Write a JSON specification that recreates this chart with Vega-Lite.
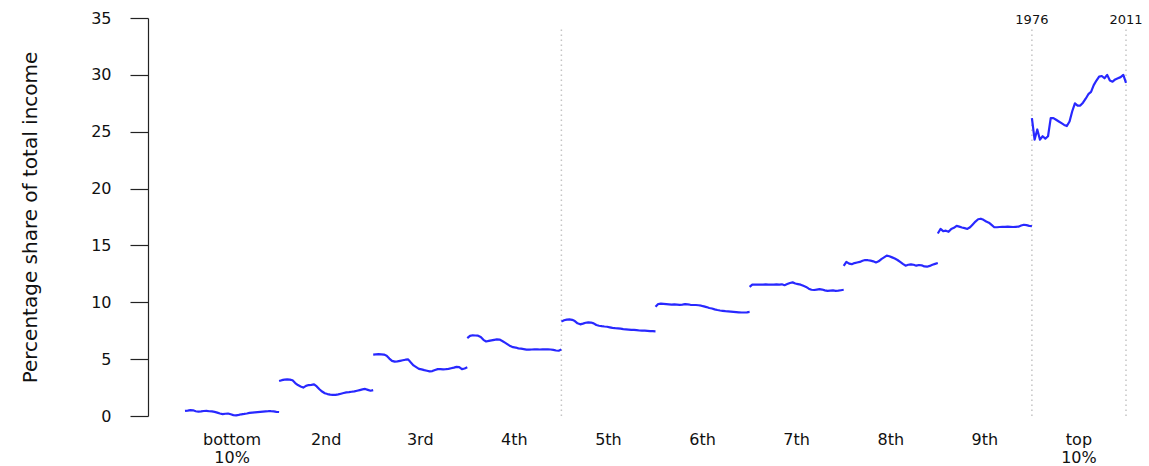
{
  "$schema": "https://vega.github.io/schema/vega-lite/v6.json",
  "width": 995,
  "height": 398,
  "autosize": "none",
  "padding": {"left": 148, "top": 18, "right": 6, "bottom": 50},
  "background": "white",
  "config": {
    "view": {"stroke": null},
    "font": "DejaVu Sans",
    "axis": {"labelFont": "DejaVu Sans", "titleFont": "DejaVu Sans", "grid": false}
  },
  "layer": [
    {
      "data": {"values": [
        {"decile": "5th", "year": 1976},
        {"decile": "top 10%", "year": 1976},
        {"decile": "top 10%", "year": 2011}
      ]},
      "mark": {"type": "rule", "color": "#c4c4c4", "strokeWidth": 1.5, "strokeDash": [1.5, 3.5]},
      "encoding": {
        "x": {"field": "decile", "type": "nominal"},
        "xOffset": {"field": "year", "type": "quantitative"},
        "y": {"datum": 0, "type": "quantitative"},
        "y2": {"datum": 34}
      }
    },
    {
      "data": {"values": [
        {"decile": "top 10%", "year": 1976, "label": "1976"},
        {"decile": "top 10%", "year": 2011, "label": "2011"}
      ]},
      "mark": {"type": "text", "fontSize": 13, "color": "#111", "baseline": "middle", "align": "center", "dy": 2},
      "encoding": {
        "x": {"field": "decile", "type": "nominal"},
        "xOffset": {"field": "year", "type": "quantitative"},
        "y": {"datum": 35, "type": "quantitative"},
        "text": {"field": "label"}
      }
    },
    {
      "data": {"values": [
        {"decile":"bottom 10%","year":1976,"share":0.45},{"decile":"bottom 10%","year":1977,"share":0.48},{"decile":"bottom 10%","year":1978,"share":0.52},{"decile":"bottom 10%","year":1979,"share":0.5},{"decile":"bottom 10%","year":1980,"share":0.42},{"decile":"bottom 10%","year":1981,"share":0.38},{"decile":"bottom 10%","year":1982,"share":0.4},{"decile":"bottom 10%","year":1983,"share":0.44},{"decile":"bottom 10%","year":1984,"share":0.45},{"decile":"bottom 10%","year":1985,"share":0.42},{"decile":"bottom 10%","year":1986,"share":0.4},{"decile":"bottom 10%","year":1987,"share":0.36},{"decile":"bottom 10%","year":1988,"share":0.3},{"decile":"bottom 10%","year":1989,"share":0.22},{"decile":"bottom 10%","year":1990,"share":0.17},{"decile":"bottom 10%","year":1991,"share":0.2},{"decile":"bottom 10%","year":1992,"share":0.22},{"decile":"bottom 10%","year":1993,"share":0.15},{"decile":"bottom 10%","year":1994,"share":0.08},{"decile":"bottom 10%","year":1995,"share":0.06},{"decile":"bottom 10%","year":1996,"share":0.1},{"decile":"bottom 10%","year":1997,"share":0.15},{"decile":"bottom 10%","year":1998,"share":0.18},{"decile":"bottom 10%","year":1999,"share":0.22},{"decile":"bottom 10%","year":2000,"share":0.27},{"decile":"bottom 10%","year":2001,"share":0.3},{"decile":"bottom 10%","year":2002,"share":0.32},{"decile":"bottom 10%","year":2003,"share":0.34},{"decile":"bottom 10%","year":2004,"share":0.36},{"decile":"bottom 10%","year":2005,"share":0.38},{"decile":"bottom 10%","year":2006,"share":0.4},{"decile":"bottom 10%","year":2007,"share":0.42},{"decile":"bottom 10%","year":2008,"share":0.42},{"decile":"bottom 10%","year":2009,"share":0.4},{"decile":"bottom 10%","year":2010,"share":0.37},{"decile":"bottom 10%","year":2011,"share":0.35},
        {"decile":"2nd","year":1976,"share":3.08},{"decile":"2nd","year":1977,"share":3.15},{"decile":"2nd","year":1978,"share":3.2},{"decile":"2nd","year":1979,"share":3.22},{"decile":"2nd","year":1980,"share":3.2},{"decile":"2nd","year":1981,"share":3.14},{"decile":"2nd","year":1982,"share":2.9},{"decile":"2nd","year":1983,"share":2.72},{"decile":"2nd","year":1984,"share":2.6},{"decile":"2nd","year":1985,"share":2.5},{"decile":"2nd","year":1986,"share":2.65},{"decile":"2nd","year":1987,"share":2.72},{"decile":"2nd","year":1988,"share":2.74},{"decile":"2nd","year":1989,"share":2.78},{"decile":"2nd","year":1990,"share":2.6},{"decile":"2nd","year":1991,"share":2.35},{"decile":"2nd","year":1992,"share":2.15},{"decile":"2nd","year":1993,"share":2.0},{"decile":"2nd","year":1994,"share":1.93},{"decile":"2nd","year":1995,"share":1.88},{"decile":"2nd","year":1996,"share":1.85},{"decile":"2nd","year":1997,"share":1.86},{"decile":"2nd","year":1998,"share":1.9},{"decile":"2nd","year":1999,"share":1.96},{"decile":"2nd","year":2000,"share":2.02},{"decile":"2nd","year":2001,"share":2.08},{"decile":"2nd","year":2002,"share":2.1},{"decile":"2nd","year":2003,"share":2.13},{"decile":"2nd","year":2004,"share":2.16},{"decile":"2nd","year":2005,"share":2.22},{"decile":"2nd","year":2006,"share":2.28},{"decile":"2nd","year":2007,"share":2.34},{"decile":"2nd","year":2008,"share":2.38},{"decile":"2nd","year":2009,"share":2.3},{"decile":"2nd","year":2010,"share":2.22},{"decile":"2nd","year":2011,"share":2.28},
        {"decile":"3rd","year":1976,"share":5.4},{"decile":"3rd","year":1977,"share":5.42},{"decile":"3rd","year":1978,"share":5.44},{"decile":"3rd","year":1979,"share":5.42},{"decile":"3rd","year":1980,"share":5.4},{"decile":"3rd","year":1981,"share":5.3},{"decile":"3rd","year":1982,"share":5.05},{"decile":"3rd","year":1983,"share":4.85},{"decile":"3rd","year":1984,"share":4.78},{"decile":"3rd","year":1985,"share":4.8},{"decile":"3rd","year":1986,"share":4.85},{"decile":"3rd","year":1987,"share":4.9},{"decile":"3rd","year":1988,"share":4.95},{"decile":"3rd","year":1989,"share":4.98},{"decile":"3rd","year":1990,"share":4.7},{"decile":"3rd","year":1991,"share":4.45},{"decile":"3rd","year":1992,"share":4.3},{"decile":"3rd","year":1993,"share":4.15},{"decile":"3rd","year":1994,"share":4.1},{"decile":"3rd","year":1995,"share":4.03},{"decile":"3rd","year":1996,"share":3.98},{"decile":"3rd","year":1997,"share":3.92},{"decile":"3rd","year":1998,"share":3.95},{"decile":"3rd","year":1999,"share":4.05},{"decile":"3rd","year":2000,"share":4.12},{"decile":"3rd","year":2001,"share":4.12},{"decile":"3rd","year":2002,"share":4.1},{"decile":"3rd","year":2003,"share":4.12},{"decile":"3rd","year":2004,"share":4.15},{"decile":"3rd","year":2005,"share":4.2},{"decile":"3rd","year":2006,"share":4.25},{"decile":"3rd","year":2007,"share":4.32},{"decile":"3rd","year":2008,"share":4.3},{"decile":"3rd","year":2009,"share":4.12},{"decile":"3rd","year":2010,"share":4.18},{"decile":"3rd","year":2011,"share":4.28},
        {"decile":"4th","year":1976,"share":6.85},{"decile":"4th","year":1977,"share":7.05},{"decile":"4th","year":1978,"share":7.1},{"decile":"4th","year":1979,"share":7.08},{"decile":"4th","year":1980,"share":7.06},{"decile":"4th","year":1981,"share":6.95},{"decile":"4th","year":1982,"share":6.7},{"decile":"4th","year":1983,"share":6.55},{"decile":"4th","year":1984,"share":6.6},{"decile":"4th","year":1985,"share":6.65},{"decile":"4th","year":1986,"share":6.7},{"decile":"4th","year":1987,"share":6.74},{"decile":"4th","year":1988,"share":6.72},{"decile":"4th","year":1989,"share":6.6},{"decile":"4th","year":1990,"share":6.45},{"decile":"4th","year":1991,"share":6.3},{"decile":"4th","year":1992,"share":6.15},{"decile":"4th","year":1993,"share":6.05},{"decile":"4th","year":1994,"share":6.02},{"decile":"4th","year":1995,"share":5.95},{"decile":"4th","year":1996,"share":5.92},{"decile":"4th","year":1997,"share":5.88},{"decile":"4th","year":1998,"share":5.84},{"decile":"4th","year":1999,"share":5.83},{"decile":"4th","year":2000,"share":5.85},{"decile":"4th","year":2001,"share":5.86},{"decile":"4th","year":2002,"share":5.86},{"decile":"4th","year":2003,"share":5.85},{"decile":"4th","year":2004,"share":5.86},{"decile":"4th","year":2005,"share":5.87},{"decile":"4th","year":2006,"share":5.86},{"decile":"4th","year":2007,"share":5.85},{"decile":"4th","year":2008,"share":5.82},{"decile":"4th","year":2009,"share":5.76},{"decile":"4th","year":2010,"share":5.74},{"decile":"4th","year":2011,"share":5.86},
        {"decile":"5th","year":1976,"share":8.3},{"decile":"5th","year":1977,"share":8.42},{"decile":"5th","year":1978,"share":8.48},{"decile":"5th","year":1979,"share":8.5},{"decile":"5th","year":1980,"share":8.46},{"decile":"5th","year":1981,"share":8.35},{"decile":"5th","year":1982,"share":8.15},{"decile":"5th","year":1983,"share":8.06},{"decile":"5th","year":1984,"share":8.12},{"decile":"5th","year":1985,"share":8.2},{"decile":"5th","year":1986,"share":8.23},{"decile":"5th","year":1987,"share":8.22},{"decile":"5th","year":1988,"share":8.15},{"decile":"5th","year":1989,"share":8.0},{"decile":"5th","year":1990,"share":7.94},{"decile":"5th","year":1991,"share":7.9},{"decile":"5th","year":1992,"share":7.87},{"decile":"5th","year":1993,"share":7.85},{"decile":"5th","year":1994,"share":7.8},{"decile":"5th","year":1995,"share":7.75},{"decile":"5th","year":1996,"share":7.72},{"decile":"5th","year":1997,"share":7.7},{"decile":"5th","year":1998,"share":7.68},{"decile":"5th","year":1999,"share":7.64},{"decile":"5th","year":2000,"share":7.62},{"decile":"5th","year":2001,"share":7.6},{"decile":"5th","year":2002,"share":7.58},{"decile":"5th","year":2003,"share":7.57},{"decile":"5th","year":2004,"share":7.55},{"decile":"5th","year":2005,"share":7.52},{"decile":"5th","year":2006,"share":7.5},{"decile":"5th","year":2007,"share":7.5},{"decile":"5th","year":2008,"share":7.49},{"decile":"5th","year":2009,"share":7.47},{"decile":"5th","year":2010,"share":7.46},{"decile":"5th","year":2011,"share":7.45},
        {"decile":"6th","year":1976,"share":9.6},{"decile":"6th","year":1977,"share":9.85},{"decile":"6th","year":1978,"share":9.88},{"decile":"6th","year":1979,"share":9.86},{"decile":"6th","year":1980,"share":9.84},{"decile":"6th","year":1981,"share":9.82},{"decile":"6th","year":1982,"share":9.8},{"decile":"6th","year":1983,"share":9.82},{"decile":"6th","year":1984,"share":9.8},{"decile":"6th","year":1985,"share":9.78},{"decile":"6th","year":1986,"share":9.8},{"decile":"6th","year":1987,"share":9.84},{"decile":"6th","year":1988,"share":9.82},{"decile":"6th","year":1989,"share":9.78},{"decile":"6th","year":1990,"share":9.76},{"decile":"6th","year":1991,"share":9.76},{"decile":"6th","year":1992,"share":9.74},{"decile":"6th","year":1993,"share":9.7},{"decile":"6th","year":1994,"share":9.64},{"decile":"6th","year":1995,"share":9.58},{"decile":"6th","year":1996,"share":9.5},{"decile":"6th","year":1997,"share":9.45},{"decile":"6th","year":1998,"share":9.38},{"decile":"6th","year":1999,"share":9.32},{"decile":"6th","year":2000,"share":9.28},{"decile":"6th","year":2001,"share":9.25},{"decile":"6th","year":2002,"share":9.22},{"decile":"6th","year":2003,"share":9.2},{"decile":"6th","year":2004,"share":9.18},{"decile":"6th","year":2005,"share":9.16},{"decile":"6th","year":2006,"share":9.14},{"decile":"6th","year":2007,"share":9.12},{"decile":"6th","year":2008,"share":9.1},{"decile":"6th","year":2009,"share":9.1},{"decile":"6th","year":2010,"share":9.12},{"decile":"6th","year":2011,"share":9.15},
        {"decile":"7th","year":1976,"share":11.35},{"decile":"7th","year":1977,"share":11.55},{"decile":"7th","year":1978,"share":11.55},{"decile":"7th","year":1979,"share":11.56},{"decile":"7th","year":1980,"share":11.56},{"decile":"7th","year":1981,"share":11.56},{"decile":"7th","year":1982,"share":11.57},{"decile":"7th","year":1983,"share":11.56},{"decile":"7th","year":1984,"share":11.56},{"decile":"7th","year":1985,"share":11.56},{"decile":"7th","year":1986,"share":11.57},{"decile":"7th","year":1987,"share":11.56},{"decile":"7th","year":1988,"share":11.58},{"decile":"7th","year":1989,"share":11.5},{"decile":"7th","year":1990,"share":11.6},{"decile":"7th","year":1991,"share":11.7},{"decile":"7th","year":1992,"share":11.75},{"decile":"7th","year":1993,"share":11.65},{"decile":"7th","year":1994,"share":11.6},{"decile":"7th","year":1995,"share":11.55},{"decile":"7th","year":1996,"share":11.45},{"decile":"7th","year":1997,"share":11.35},{"decile":"7th","year":1998,"share":11.2},{"decile":"7th","year":1999,"share":11.1},{"decile":"7th","year":2000,"share":11.08},{"decile":"7th","year":2001,"share":11.12},{"decile":"7th","year":2002,"share":11.15},{"decile":"7th","year":2003,"share":11.12},{"decile":"7th","year":2004,"share":11.05},{"decile":"7th","year":2005,"share":11.0},{"decile":"7th","year":2006,"share":11.02},{"decile":"7th","year":2007,"share":11.04},{"decile":"7th","year":2008,"share":11.0},{"decile":"7th","year":2009,"share":11.02},{"decile":"7th","year":2010,"share":11.06},{"decile":"7th","year":2011,"share":11.1},
        {"decile":"8th","year":1976,"share":13.2},{"decile":"8th","year":1977,"share":13.55},{"decile":"8th","year":1978,"share":13.4},{"decile":"8th","year":1979,"share":13.35},{"decile":"8th","year":1980,"share":13.45},{"decile":"8th","year":1981,"share":13.5},{"decile":"8th","year":1982,"share":13.55},{"decile":"8th","year":1983,"share":13.65},{"decile":"8th","year":1984,"share":13.72},{"decile":"8th","year":1985,"share":13.7},{"decile":"8th","year":1986,"share":13.66},{"decile":"8th","year":1987,"share":13.6},{"decile":"8th","year":1988,"share":13.5},{"decile":"8th","year":1989,"share":13.6},{"decile":"8th","year":1990,"share":13.8},{"decile":"8th","year":1991,"share":13.95},{"decile":"8th","year":1992,"share":14.1},{"decile":"8th","year":1993,"share":14.05},{"decile":"8th","year":1994,"share":13.95},{"decile":"8th","year":1995,"share":13.85},{"decile":"8th","year":1996,"share":13.72},{"decile":"8th","year":1997,"share":13.55},{"decile":"8th","year":1998,"share":13.38},{"decile":"8th","year":1999,"share":13.22},{"decile":"8th","year":2000,"share":13.3},{"decile":"8th","year":2001,"share":13.34},{"decile":"8th","year":2002,"share":13.3},{"decile":"8th","year":2003,"share":13.22},{"decile":"8th","year":2004,"share":13.28},{"decile":"8th","year":2005,"share":13.25},{"decile":"8th","year":2006,"share":13.15},{"decile":"8th","year":2007,"share":13.13},{"decile":"8th","year":2008,"share":13.2},{"decile":"8th","year":2009,"share":13.3},{"decile":"8th","year":2010,"share":13.38},{"decile":"8th","year":2011,"share":13.45},
        {"decile":"9th","year":1976,"share":16.05},{"decile":"9th","year":1977,"share":16.45},{"decile":"9th","year":1978,"share":16.25},{"decile":"9th","year":1979,"share":16.3},{"decile":"9th","year":1980,"share":16.2},{"decile":"9th","year":1981,"share":16.45},{"decile":"9th","year":1982,"share":16.55},{"decile":"9th","year":1983,"share":16.72},{"decile":"9th","year":1984,"share":16.65},{"decile":"9th","year":1985,"share":16.58},{"decile":"9th","year":1986,"share":16.52},{"decile":"9th","year":1987,"share":16.45},{"decile":"9th","year":1988,"share":16.6},{"decile":"9th","year":1989,"share":16.85},{"decile":"9th","year":1990,"share":17.1},{"decile":"9th","year":1991,"share":17.3},{"decile":"9th","year":1992,"share":17.35},{"decile":"9th","year":1993,"share":17.25},{"decile":"9th","year":1994,"share":17.1},{"decile":"9th","year":1995,"share":17.0},{"decile":"9th","year":1996,"share":16.8},{"decile":"9th","year":1997,"share":16.6},{"decile":"9th","year":1998,"share":16.6},{"decile":"9th","year":1999,"share":16.62},{"decile":"9th","year":2000,"share":16.64},{"decile":"9th","year":2001,"share":16.64},{"decile":"9th","year":2002,"share":16.65},{"decile":"9th","year":2003,"share":16.64},{"decile":"9th","year":2004,"share":16.62},{"decile":"9th","year":2005,"share":16.64},{"decile":"9th","year":2006,"share":16.65},{"decile":"9th","year":2007,"share":16.75},{"decile":"9th","year":2008,"share":16.82},{"decile":"9th","year":2009,"share":16.78},{"decile":"9th","year":2010,"share":16.72},{"decile":"9th","year":2011,"share":16.7},
        {"decile":"top 10%","year":1976,"share":26.2},{"decile":"top 10%","year":1977,"share":24.3},{"decile":"top 10%","year":1978,"share":25.2},{"decile":"top 10%","year":1979,"share":24.3},{"decile":"top 10%","year":1980,"share":24.6},{"decile":"top 10%","year":1981,"share":24.4},{"decile":"top 10%","year":1982,"share":24.6},{"decile":"top 10%","year":1983,"share":26.2},{"decile":"top 10%","year":1984,"share":26.2},{"decile":"top 10%","year":1985,"share":26.05},{"decile":"top 10%","year":1986,"share":25.9},{"decile":"top 10%","year":1987,"share":25.75},{"decile":"top 10%","year":1988,"share":25.6},{"decile":"top 10%","year":1989,"share":25.5},{"decile":"top 10%","year":1990,"share":25.9},{"decile":"top 10%","year":1991,"share":26.8},{"decile":"top 10%","year":1992,"share":27.5},{"decile":"top 10%","year":1993,"share":27.3},{"decile":"top 10%","year":1994,"share":27.3},{"decile":"top 10%","year":1995,"share":27.55},{"decile":"top 10%","year":1996,"share":27.9},{"decile":"top 10%","year":1997,"share":28.3},{"decile":"top 10%","year":1998,"share":28.5},{"decile":"top 10%","year":1999,"share":29.1},{"decile":"top 10%","year":2000,"share":29.5},{"decile":"top 10%","year":2001,"share":29.85},{"decile":"top 10%","year":2002,"share":29.9},{"decile":"top 10%","year":2003,"share":29.7},{"decile":"top 10%","year":2004,"share":30.0},{"decile":"top 10%","year":2005,"share":29.5},{"decile":"top 10%","year":2006,"share":29.4},{"decile":"top 10%","year":2007,"share":29.6},{"decile":"top 10%","year":2008,"share":29.7},{"decile":"top 10%","year":2009,"share":29.8},{"decile":"top 10%","year":2010,"share":30.0},{"decile":"top 10%","year":2011,"share":29.3}
      ]},
      "mark": {"type": "line", "color": "#2828ff", "strokeWidth": 2.2, "strokeJoin": "round"},
      "encoding": {
        "x": {
          "field": "decile",
          "type": "nominal",
          "sort": ["bottom 10%", "2nd", "3rd", "4th", "5th", "6th", "7th", "8th", "9th", "top 10%"],
          "scale": {
            "type": "band",
            "domain": ["bottom 10%", "2nd", "3rd", "4th", "5th", "6th", "7th", "8th", "9th", "top 10%"],
            "range": [37, 978],
            "paddingInner": 0,
            "paddingOuter": 0
          },
          "axis": {
            "title": null,
            "domain": false,
            "ticks": false,
            "tickSize": 0,
            "labelAngle": 0,
            "labelAlign": "center",
            "labelFontSize": 16,
            "labelColor": "#111",
            "labelPadding": 15,
            "labelBaseline": "top",
            "labelLineHeight": 18,
            "labelExpr": "split(datum.value, ' ')"
          }
        },
        "xOffset": {
          "field": "year",
          "type": "quantitative",
          "scale": {"domain": [1976, 2011], "nice": false, "zero": false}
        },
        "y": {
          "field": "share",
          "type": "quantitative",
          "scale": {"domain": [0, 35], "nice": false, "zero": false},
          "axis": {
            "title": "Percentage share of total income",
            "titleFontSize": 20,
            "titleFontWeight": "normal",
            "titleColor": "#111",
            "titleX": -118,
            "titleY": 199,
            "titleAngle": -90,
            "titleAlign": "center",
            "titleBaseline": "middle",
            "values": [0, 5, 10, 15, 20, 25, 30, 35],
            "tickSize": 18,
            "tickColor": "#222",
            "tickWidth": 1.2,
            "domainColor": "#222",
            "domainWidth": 1.2,
            "labelFontSize": 16,
            "labelColor": "#111",
            "labelPadding": 19
          }
        },
        "detail": {"field": "decile"},
        "order": {"field": "year"}
      }
    }
  ]
}
